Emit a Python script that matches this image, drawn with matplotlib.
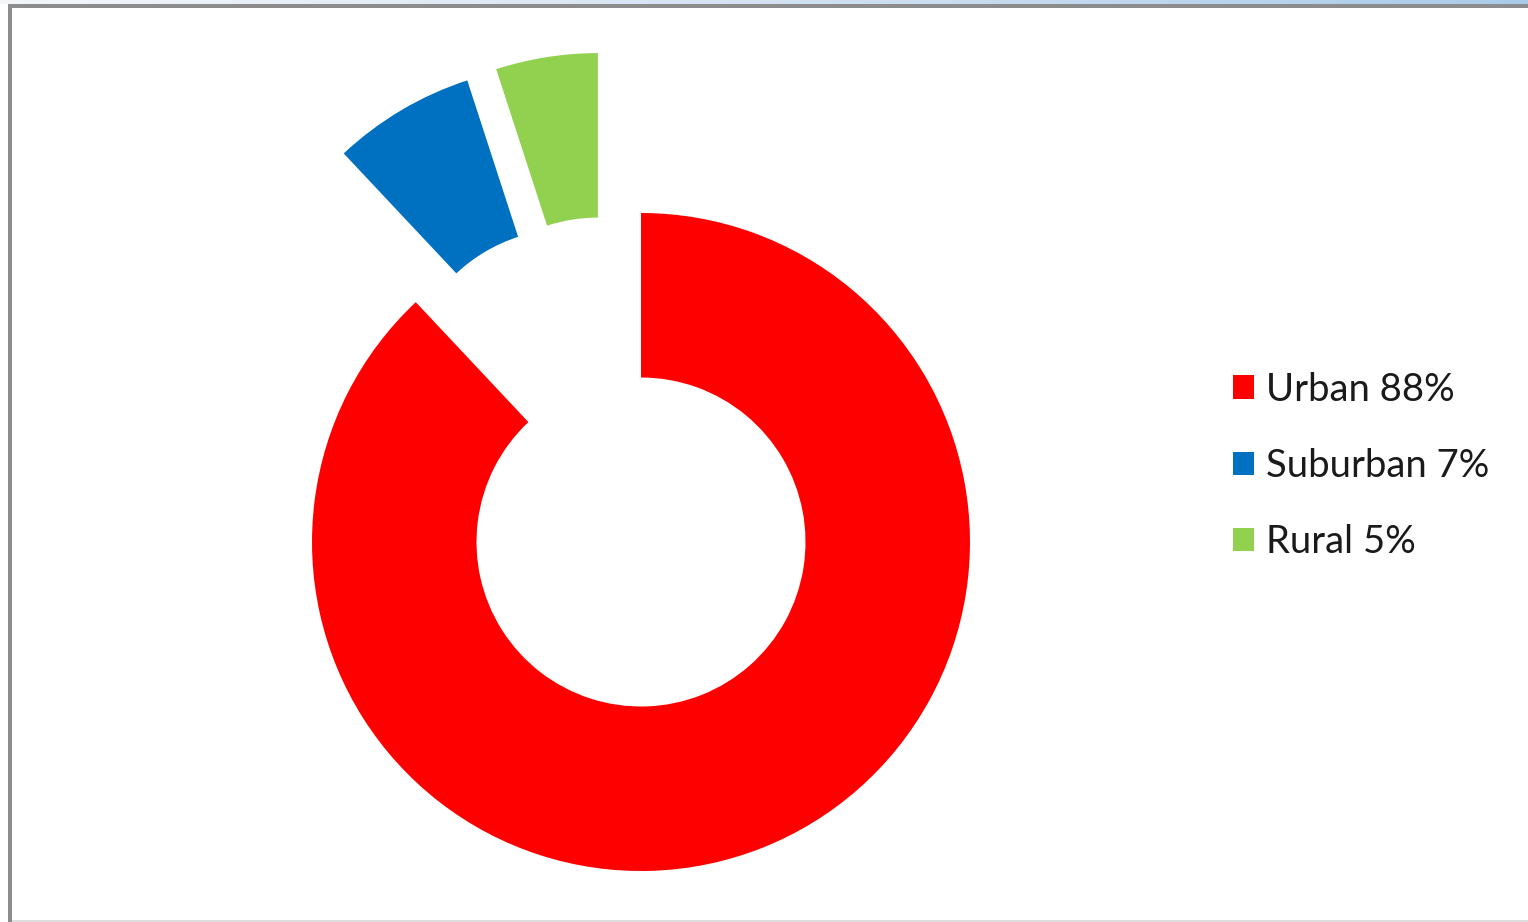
import numpy as np
import matplotlib
matplotlib.use('Agg')
import matplotlib.pyplot as plt
from matplotlib.patches import Rectangle, Patch

# Share of population by area type
areas = ['Urban', 'Suburban', 'Rural']
shares = [88, 7, 5]
colors = ['#FF0000', '#0070C0', '#92D050']

# Pulled-out offset of each slice (x, y) in units of the ring radius
offsets = [(0.0, 0.0), (-0.219, 0.452), (-0.131, 0.486)]

W, H = 1528, 922
fig = plt.figure(figsize=(W / 100, H / 100), dpi=100)
fig.patch.set_facecolor('white')

# Window frame: gradient strip on top, grey rules on the left and top
strip = fig.add_axes([0, (H - 4) / H, 1, 4 / H])
grad = np.linspace(0, 1, 256)[None, :]
strip.imshow(grad, aspect='auto', extent=(0, 1, 0, 1),
             cmap=matplotlib.colors.LinearSegmentedColormap.from_list(
                 'frame', ['#f4f6f8', '#d4e2f2', '#a9cbea']))
strip.axis('off')
fig.patches.append(Rectangle((8 / W, 0), 4 / W, (H - 4) / H,
                             transform=fig.transFigure, color='#8c8c8c', lw=0))
fig.patches.append(Rectangle((8 / W, (H - 8) / H), 1 - 8 / W, 4 / H,
                             transform=fig.transFigure, color='#8c8c8c', lw=0))
fig.patches.append(Rectangle((12 / W, 0), 1 - 12 / W, 2 / H,
                             transform=fig.transFigure, color='#dedede', lw=0))

# Donut axes: centre at (641, 542) px, outer radius 329 px
R = 329
cx, cy = 641, H - 542
xlim = (-1.5, 1.5)
ylim = (-1.1, 1.6)
ax = fig.add_axes([(cx + xlim[0] * R) / W, (cy + ylim[0] * R) / H,
                   (xlim[1] - xlim[0]) * R / W, (ylim[1] - ylim[0]) * R / H])
wedges, _ = ax.pie(shares, colors=colors, startangle=90, counterclock=False,
                   radius=1.0, wedgeprops=dict(width=0.5, linewidth=0))
for w, (dx, dy) in zip(wedges, offsets):
    w.set_center((dx, dy))
ax.set_xlim(*xlim)
ax.set_ylim(*ylim)
ax.set_aspect('equal')
ax.axis('off')

handles = [Patch(facecolor=c, edgecolor='none') for c in colors]
labels = [f'{a} {s}%' for a, s in zip(areas, shares)]
fig.legend(handles, labels, loc='center left',
           bbox_to_anchor=(1214 / W, (H - 466) / H),
           frameon=False, prop={'family': 'Lato', 'size': 27.5},
           handlelength=0.55, handleheight=0.55, handletextpad=0.3,
           labelspacing=1.06, labelcolor='#1a1a1a', borderpad=0)

fig.savefig('out.png', dpi=100)
